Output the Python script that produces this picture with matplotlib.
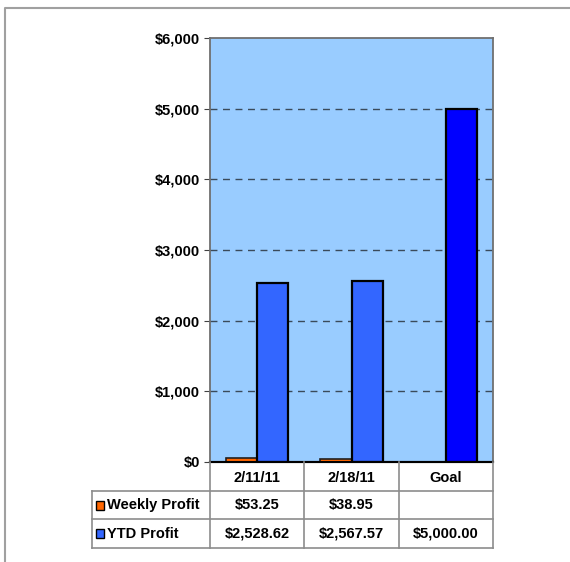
import matplotlib; matplotlib.use("Agg")
import matplotlib.pyplot as plt
from matplotlib.patches import Rectangle
from matplotlib.lines import Line2D

plt.rcParams['font.family'] = ['Liberation Sans', 'DejaVu Sans']
plt.rcParams['font.weight'] = 'bold'

# ---- data ----
categories = ["2/11/11", "2/18/11", "Goal"]
weekly_profit = [53.25, 38.95, None]
ytd_profit = [2528.62, 2567.57, 5000.00]
series_names = ["Weekly Profit", "YTD Profit"]
y_ticks = [0, 1000, 2000, 3000, 4000, 5000, 6000]

W, H = 570, 562
fig = plt.figure(figsize=(W/100, H/100), dpi=100)
fig.patch.set_facecolor("white")

# plot area in pixels
px0, px1, py0, py1 = 210, 493, 38, 462
ax = fig.add_axes([px0/W, 1-py1/H, (px1-px0)/W, (py1-py0)/H])
ax.set_facecolor("#99CCFF")
bw = 0.33
xs = range(len(categories))
for i in xs:
    if weekly_profit[i] is not None:
        ax.bar(i-bw/2, weekly_profit[i], bw, color="#FF6600", edgecolor="#202020", lw=1.2, zorder=3)
    col = "#0000FF" if categories[i] == "Goal" else "#3366FF"
    ax.bar(i+bw/2, ytd_profit[i], bw, color=col, edgecolor="black", lw=1.6, zorder=3)
ax.set_xlim(-0.5, len(categories)-0.5)
ax.set_ylim(0, 6000)
ax.set_yticks(y_ticks)
ax.set_yticklabels([f"${v:,.0f}" for v in y_ticks], fontsize=10.5, fontweight="bold")
ax.set_xticks([])
for v in y_ticks[1:-1]:
    ax.axhline(v, color="#3A4A5A", ls=(0, (5, 4)), lw=1, zorder=1)
ax.tick_params(axis="y", length=4, color="#404040", pad=3)
for s in ["top", "right", "left"]:
    ax.spines[s].set_color("#707070"); ax.spines[s].set_linewidth(1.3)
ax.spines["bottom"].set_color("black"); ax.spines["bottom"].set_linewidth(1.5)

# ---- data table (drawn in pixel coords) ----
tb = fig.add_axes([0, 0, 1, 1], facecolor="none")
tb.set_xlim(0, W); tb.set_ylim(H, 0); tb.axis("off")
lab_x0 = 92
col_w = (px1-px0)/len(categories)
col_edges = [px0 + k*col_w for k in range(len(categories)+1)]
row_edges = [py1, 491, 519, 548]
lc = "#8C8C8C"
tb.add_line(Line2D([px0, px1], [row_edges[0]]*2, color="black", lw=1.5))
for r in row_edges[1:]:
    tb.add_line(Line2D([lab_x0, px1], [r, r], color=lc, lw=1.2))
for c in col_edges:
    tb.add_line(Line2D([c, c], [row_edges[0], row_edges[-1]], color=lc, lw=1.2))
tb.add_line(Line2D([lab_x0, lab_x0], [row_edges[1], row_edges[-1]], color=lc, lw=1.2))

for k, c in enumerate(categories):
    tb.text((col_edges[k]+col_edges[k+1])/2, (row_edges[0]+row_edges[1])/2+1, c,
            ha="center", va="center", fontsize=10.5, fontweight="bold")
rows = [weekly_profit, ytd_profit]
swatch = ["#FF6600", "#3366FF"]
for r, vals in enumerate(rows):
    yc = (row_edges[r+1]+row_edges[r+2])/2
    tb.add_patch(Rectangle((96, yc-4.5), 8, 9, facecolor=swatch[r], edgecolor="black", lw=1))
    tb.text(107, yc, series_names[r], ha="left", va="center", fontsize=10.5, fontweight="bold")
    for k, v in enumerate(vals):
        if v is not None:
            tb.text((col_edges[k]+col_edges[k+1])/2, yc, f"${v:,.2f}",
                    ha="center", va="center", fontsize=10.5, fontweight="bold")

# outer frame
tb.add_line(Line2D([5, 5, W], [H, 8, 8], color="#A0A0A0", lw=1.5))

fig.savefig("out.png", dpi=100)
